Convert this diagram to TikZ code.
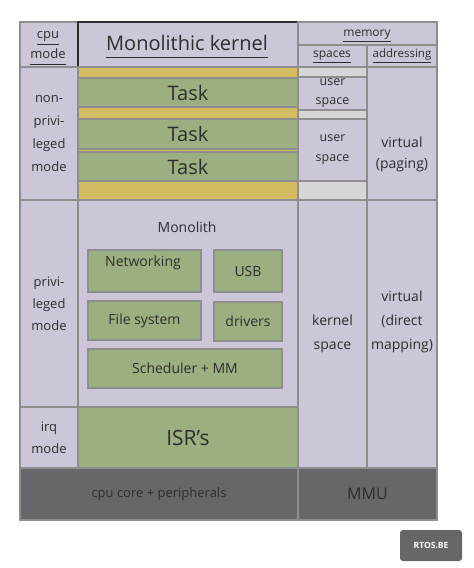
\documentclass[tikz,border=0pt]{standalone}
\usepackage{fontspec}
\setmainfont{Open Sans}
\definecolor{lav}{HTML}{CDC6D8}
\definecolor{grn}{HTML}{9CAF80}
\definecolor{ylw}{HTML}{D4BC62}
\definecolor{lgray}{HTML}{D6D6D6}
\definecolor{dark}{HTML}{68656B}
\definecolor{edge}{HTML}{8E8E8E}
\definecolor{ink}{HTML}{2E2E2E}
\newcommand\ulx[1]{\leavevmode\vtop{\hbox{\strut #1}\kern-0.6pt\hrule height 1.4pt}}
\tikzset{
  rect/.style n args={4}{minimum width={#3-#1}, minimum height={#4-#2}, at={({(#1+#3)/2},{(#2+#4)/2})}},
  cell/.style={draw=edge, line width=1.6pt, fill=lav, inner sep=0pt, text=ink, align=center},
  gcell/.style={cell, fill=grn},
  ycell/.style={cell, fill=ylw},
  lcell/.style={cell, fill=lgray},
  dcell/.style={cell, fill=dark},
  txt/.style={text=ink, align=center, inner sep=0pt},
  md/.style={font=\fontsize{14}{22}\selectfont},
  lg/.style={font=\fontsize{20}{22}\selectfont},
}
\begin{document}
\begin{tikzpicture}[x=1pt,y=-1pt]
\useasboundingbox[fill=white] (0,0) rectangle (474,568);
% header
\node[cell, rect={20}{22}{78}{67}] (cpumode) {};
\node[txt, font=\fontsize{13}{20}\selectfont] (cputxt) at (48,35) {\ulx{cpu}};
\node[txt, font=\fontsize{13}{20}\selectfont] (modetxt) at (48,55) {\ulx{mode}};
\node[cell, draw=ink, lg, rect={78}{22}{298}{67}] (title) {};
\node[txt, lg] (titletxt) at (187,46.5) {\ulx{Monolithic kernel}};
\node[cell, rect={298}{22}{437}{45}] (memory) {};
\node[txt, font=\fontsize{12}{14}\selectfont] (memorytxt) at (367,34.5) {\ulx{memory}};
\node[cell, rect={298}{45}{367}{67}] (spaces) {};
\node[txt, font=\fontsize{12}{14}\selectfont] (spacestxt) at (332,55.5) {\ulx{spaces}};
\node[cell, rect={367}{45}{437}{67}] (addressing) {};
\node[txt, font=\fontsize{11.5}{14}\selectfont] (addressingtxt) at (402,55.5) {\ulx{addressing}};
% non-privileged
\node[cell, font=\fontsize{13}{23}\selectfont, rect={20}{67}{78}{200}] (npmode) {non-\\privi-\\leged\\mode};
\node[ycell, rect={78}{67}{298}{78}] (y1) {};
\node[gcell, lg, rect={78}{78}{298}{107}] (task1) {Task};
\node[ycell, rect={78}{107}{298}{119}] (y2) {};
\node[gcell, lg, rect={78}{119}{298}{149}] (task2) {Task};
\node[ycell, rect={78}{149}{298}{152}] (y3) {};
\node[gcell, lg, rect={78}{152}{298}{181}] (task3) {Task};
\node[ycell, rect={78}{181}{298}{200}] (y4) {};
\node[lcell, rect={298}{67}{367}{77}] (g1) {};
\node[cell, font=\fontsize{12.5}{19}\selectfont, rect={298}{77}{367}{110}] (us1) {user\\space};
\node[lcell, rect={298}{110}{367}{119}] (g2) {};
\node[cell, font=\fontsize{12.5}{20}\selectfont, rect={298}{119}{367}{181}] (us2) {user\\space};
\node[lcell, rect={298}{181}{367}{200}] (g3) {};
\node[cell, rect={367}{67}{437}{200}] (paging) {};
\node[txt, font=\fontsize{14}{21}\selectfont] (pagingtxt) at (402,154.5) {virtual\\(paging)};
% privileged
\node[cell, font=\fontsize{13}{22}\selectfont, rect={20}{200}{78}{407}] (pmode) {privi-\\leged\\mode};
\node[cell, rect={78}{200}{298}{407}] (monolith) {};
\node[txt, md] (monolithtxt) at (187,227) {Monolith};
\node[gcell, rect={88}{250}{201}{292}] (net) {};
\node[txt, md] (nettxt) at (143,263) {Networking};
\node[gcell, md, rect={214}{250}{282}{292}] (usb) {USB};
\node[gcell, md, rect={88}{301}{201}{340}] (fs) {File system};
\node[gcell, md, rect={214}{302}{282}{341}] (drv) {drivers};
\node[gcell, md, rect={88}{349}{282}{388}] (sched) {Scheduler + MM};
\node[cell, font=\fontsize{14}{24}\selectfont, rect={298}{200}{367}{468}] (kspace) {kernel\\space};
\node[cell, rect={367}{200}{437}{468}] (direct) {};
\node[txt, font=\fontsize{14}{24}\selectfont] (directtxt) at (402,322) {virtual\\(direct\\mapping)};
% irq
\node[cell, font=\fontsize{13}{22}\selectfont, rect={20}{407}{78}{468}] (irqmode) {irq\\mode};
\node[gcell, font=\fontsize{21}{22}\selectfont, rect={78}{407}{298}{468}] (isr) {ISR's};
% bottom
\node[dcell, font=\fontsize{13}{16}\selectfont, rect={20}{468}{298}{520}] (core) {cpu core + peripherals};
\node[dcell, font=\fontsize{16}{18}\selectfont, rect={298}{468}{437}{520}] (mmu) {MMU};
% logo
\node[fill=dark, rounded corners=3pt, minimum width=62pt, minimum height=31pt, inner sep=0pt, text=white, font=\fontsize{8.5}{9}\selectfont\bfseries] (logo) at (431,545.5) {RTOS.BE};
\end{tikzpicture}
\end{document}
